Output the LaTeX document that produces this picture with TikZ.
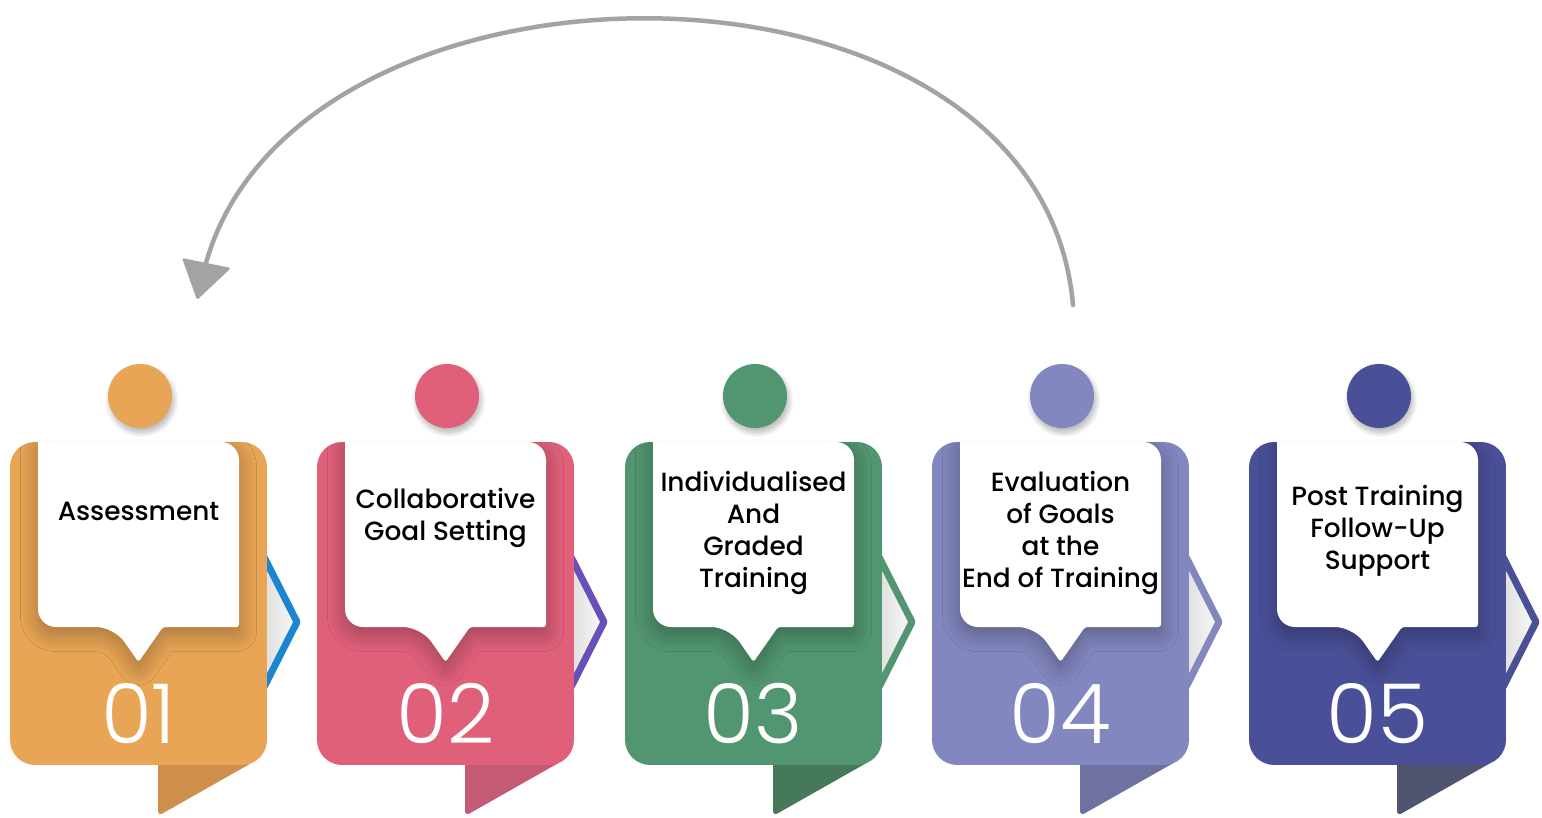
\documentclass[tikz,border=0pt]{standalone}
\usepackage{fontspec}
\setmainfont{Poppins}
\newfontfamily\labelfont{Poppins}[UprightFont=* Medium]
\newfontfamily\numfont{Poppins}[UprightFont=* Light]
\usepackage{tikz}
\usetikzlibrary{positioning, calc, shadows.blur}
\definecolor{StepOrange}{HTML}{E8A555}
\definecolor{StepPink}{HTML}{E0607A}
\definecolor{StepGreen}{HTML}{519670}
\definecolor{StepLilac}{HTML}{8387BF}
\definecolor{StepNavy}{HTML}{4A5098}
\definecolor{TabOrange}{HTML}{CF8E4C}
\definecolor{TabPink}{HTML}{C45A73}
\definecolor{TabGreen}{HTML}{46795A}
\definecolor{TabLilac}{HTML}{6F72A0}
\definecolor{TabNavy}{HTML}{4F5470}
\definecolor{ChevBlue}{HTML}{1A86D0}
\definecolor{ChevPurple}{HTML}{6A4FB8}
\definecolor{ReturnGray}{HTML}{A3A3A3}

\begin{document}
\begin{tikzpicture}[x=0.02cm, y=-0.02cm,
    card/.style={rectangle, rounded corners=0.5cm, minimum width=5.14cm, minimum height=6.46cm, inner sep=0pt},
    dot/.style={circle, minimum size=1.28cm, inner sep=0pt,
        blur shadow={shadow xshift=1pt, shadow yshift=-2.5pt, shadow blur radius=3pt, shadow blur steps=12, shadow opacity=30}},
    callout/.style={fill=white,
        blur shadow={shadow xshift=0pt, shadow yshift=-4pt, shadow blur radius=10pt, shadow blur steps=25, shadow opacity=30}},
    steptext/.style={font=\labelfont\fontsize{15}{18.2}\selectfont, align=center, text=black, inner sep=0pt},
    stepnum/.style={font=\numfont\fontsize{47}{47}\selectfont, text=white, anchor=base, inner sep=0pt},
    chevron/.style={line width=0.14cm, line join=round},
    returnline/.style={ReturnGray, line width=0.09cm, line cap=round}]
    \useasboundingbox (0,0) rectangle (1542,818);

    % --- Steps ---
    \foreach \n/\lx/\col/\tabcol/\chevcol/\ty/\txt in {
        1/10/StepOrange/TabOrange/ChevBlue/511/Assessment,
        2/317/StepPink/TabPink/ChevPurple/518/{Collaborative\\Goal Setting},
        3/625/StepGreen/TabGreen/StepGreen/533/{Individualised\\And\\Graded\\Training},
        4/932/StepLilac/TabLilac/StepLilac/533/{Evaluation\\of Goals\\at the\\End of Training},
        5/1249/StepNavy/TabNavy/StepNavy/531/{Post Training\\Follow-Up\\Support}} {
        % tab under the card and chevron to its right
        \fill[\tabcol] (\lx+148,755) [rounded corners=3pt] -- (\lx+148,816) -- (\lx+245,761) [sharp corners] -- cycle;
        \fill[left color=gray!28, right color=gray!4] (\lx+250,549) -- (\lx+287,622) -- (\lx+250,695) -- cycle;
        \draw[chevron, draw=\chevcol] (\lx+250,549) -- (\lx+287,622) -- (\lx+250,695);
        \node[card, fill=\col] (card\n) at (\lx+128.5,603.5) {};
        % white speech box
        \begin{scope}
            \clip[rounded corners=0.5cm] (card\n.south west) rectangle (card\n.north east);
            \fill[callout] (\lx+28,442) [rounded corners=0.36cm] -- (\lx+28,627) -- (\lx+104,627)
                [rounded corners=1.5pt] -- (\lx+128.5,662) -- (\lx+153,627) -- (\lx+229,627)
                [rounded corners=0.36cm] -- (\lx+229,442) [sharp corners] -- cycle;
        \end{scope}
        \node[dot, fill=\col] (dot\n) at (\lx+130,396) {};
        \node[steptext] (label\n) at (\lx+128.5,\ty) {\txt};
        \node[stepnum] (num\n) at (\lx+128.5,743) {0\n};
    }

    % --- Return arrow ---
    \coordinate (backfrom) at (1073,305);
    \coordinate (backto) at (206,263);
    \draw[returnline] (backfrom) .. controls (1040,-70) and (300,-70) .. (backto);
    \fill[ReturnGray, rounded corners=1pt] (182,258) -- (231,268) -- (197,300) -- cycle;
\end{tikzpicture}
\end{document}
